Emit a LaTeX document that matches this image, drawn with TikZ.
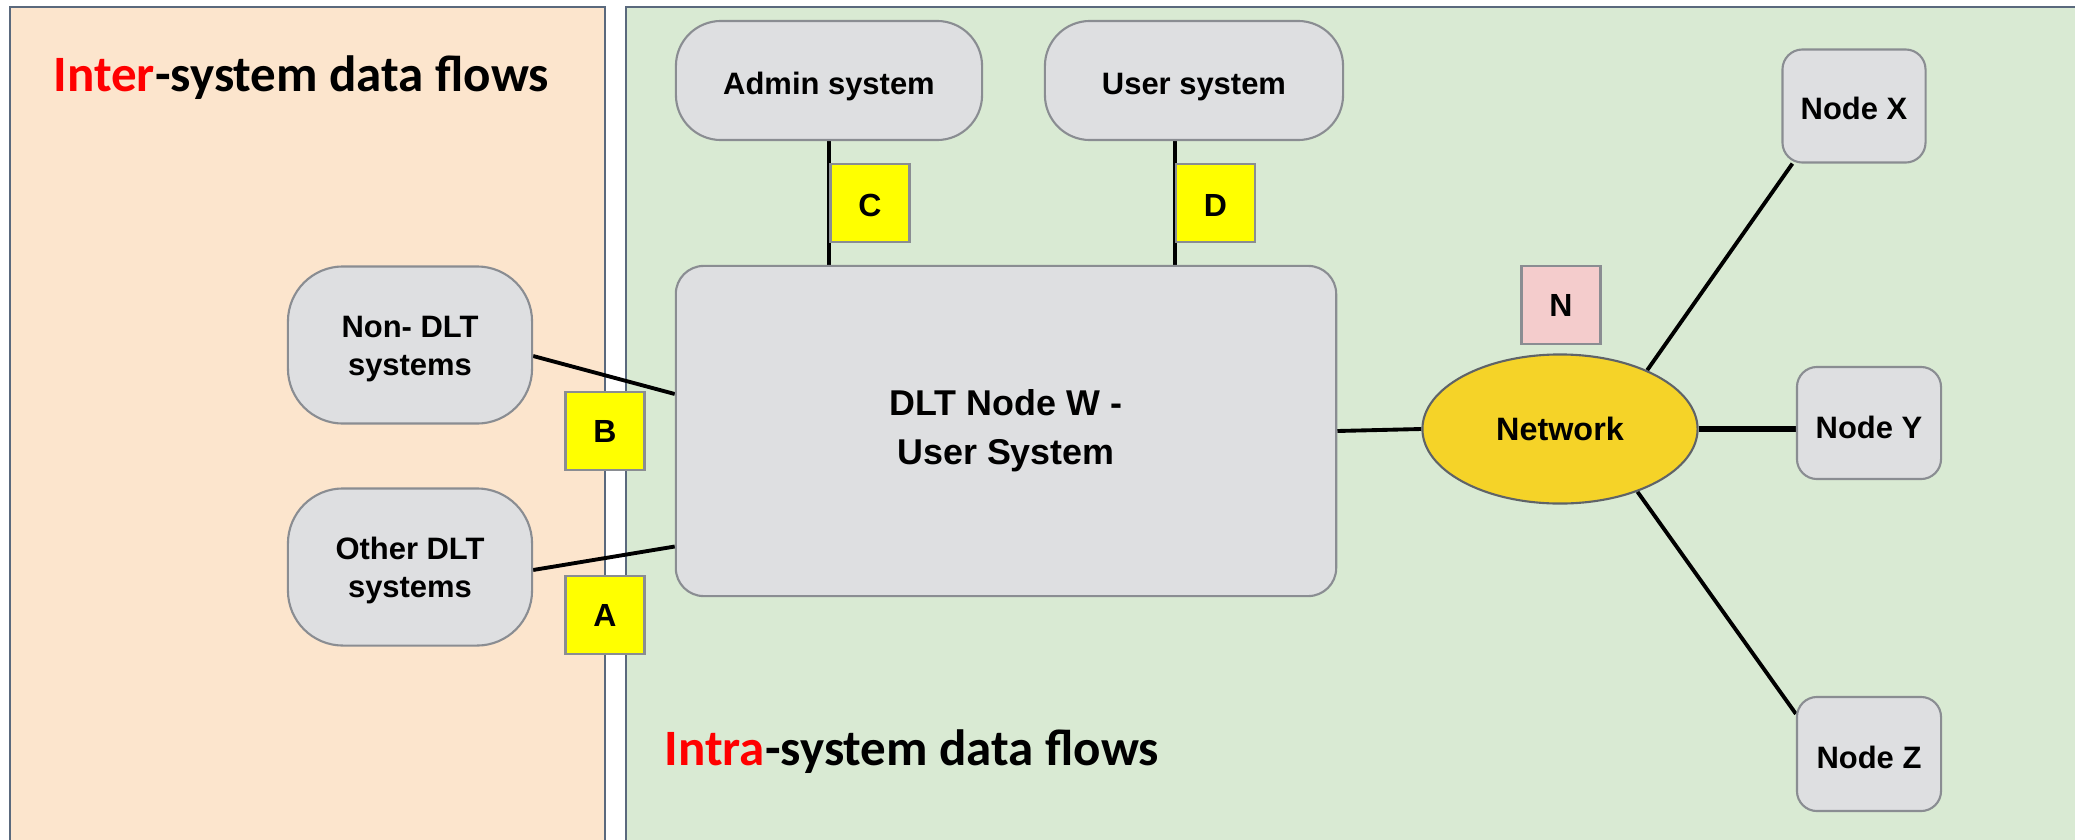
\documentclass[tikz,border=0pt]{standalone}
\usepackage{fontspec}
\setmainfont{Liberation Sans}
\newfontfamily\titlefont{Carlito}
\usetikzlibrary{shapes.geometric,calc}
\definecolor{peach}{RGB}{252,229,205}
\definecolor{mint}{RGB}{217,234,211}
\definecolor{panelborder}{RGB}{90,105,125}
\definecolor{boxgray}{RGB}{222,223,225}
\definecolor{boxborder}{RGB}{138,141,146}
\definecolor{netyellow}{RGB}{245,211,40}
\definecolor{netborder}{RGB}{95,99,104}
\definecolor{pinkbox}{RGB}{244,204,204}
\definecolor{tagyellow}{RGB}{255,255,0}
\definecolor{titlered}{RGB}{255,0,0}
\pgfdeclarelayer{bg}
\pgfdeclarelayer{lines}
\pgfsetlayers{bg,lines,main}
\newcommand{\lowered}[2]{\raisebox{-#1}[\height][\depth]{#2}}
\newcommand{\twolines}[2]{\begin{tabular}{@{}c@{}}#1\\#2\end{tabular}}
\tikzset{
  panel/.style={draw=panelborder,line width=0.6pt},
  sysbox/.style={draw=boxborder,fill=boxgray,line width=0.6pt,inner sep=0pt,align=center,font=\bfseries\fontsize{8.8}{10.9}\selectfont},
  tagbox/.style={draw=boxborder,fill=tagyellow,line width=0.6pt,inner sep=0pt,minimum width=0.79cm,minimum height=0.78cm,font=\bfseries\fontsize{9.1}{11}\selectfont},
  link/.style={draw=black,line width=1.1pt},
  titletext/.style={anchor=base west,inner sep=0pt,font=\titlefont\bfseries\fontsize{14.5}{17}\selectfont}
}
\begin{document}
\begin{tikzpicture}[x=0.01cm,y=-0.01cm]
\useasboundingbox (0,0) rectangle (2075,839);
\clip (0,0) rectangle (2075,839);
\begin{pgfonlayer}{bg}
  \fill[white] (0,0) rectangle (2075,839);
  \filldraw[panel,fill=peach] (10,7) rectangle (605,860);
  \filldraw[panel,fill=mint] (626,7) rectangle (2100,860);
\end{pgfonlayer}

\node[titletext] (intertitle) at (53,91) {\textcolor{titlered}{Inter}-system data flows};
\node[titletext] (intratitle) at (664,765) {\textcolor{titlered}{Intra}-system data flows};

\node[sysbox,rounded corners=0.45cm,minimum width=3.06cm,minimum height=1.19cm] (admin) at (829,80.5) {\lowered{1.8pt}{Admin system}};
\node[sysbox,rounded corners=0.45cm,minimum width=2.98cm,minimum height=1.19cm] (user) at (1194,80.5) {\lowered{1.8pt}{User system}};
\node[sysbox,rounded corners=0.28cm,minimum width=6.60cm,minimum height=3.30cm,font=\bfseries\fontsize{10.2}{14}\selectfont] (dlt) at (1006,431) {DLT Node W -\\User System};
\node[sysbox,rounded corners=0.55cm,minimum width=2.44cm,minimum height=1.57cm] (nondlt) at (410,345) {\lowered{1.1pt}{\twolines{Non- DLT}{systems}}};
\node[sysbox,rounded corners=0.55cm,minimum width=2.44cm,minimum height=1.57cm] (otherdlt) at (410,567) {\lowered{1.1pt}{\twolines{Other DLT}{systems}}};
\node[ellipse,draw=netborder,fill=netyellow,line width=0.6pt,inner sep=0pt,minimum width=2.75cm,minimum height=1.49cm,font=\bfseries\fontsize{9.2}{11}\selectfont] (net) at (1560,429) {Network};
\node[sysbox,rounded corners=0.2cm,minimum width=1.43cm,minimum height=1.13cm] (nodex) at (1854,106) {\lowered{0.8pt}{Node X}};
\node[sysbox,rounded corners=0.2cm,minimum width=1.44cm,minimum height=1.12cm] (nodey) at (1869,423) {\lowered{1.4pt}{Node Y}};
\node[sysbox,rounded corners=0.2cm,minimum width=1.44cm,minimum height=1.14cm] (nodez) at (1869,754) {\lowered{1.1pt}{Node Z}};

\node[tagbox] (tagc) at (870,203) {\lowered{0.6pt}{C}};
\node[tagbox] (tagd) at (1215.5,203) {\lowered{0.6pt}{D}};
\node[tagbox] (tagb) at (605,431) {B};
\node[tagbox] (taga) at (605,615) {A};
\node[tagbox,fill=pinkbox] (tagn) at (1561,305) {N};

\begin{pgfonlayer}{lines}
  \draw[link] (admin.south -| tagc.west) -- (dlt.north -| tagc.west);
  \draw[link] (user.south -| tagd.west) -- (dlt.north -| tagd.west);
  \draw[link] ($(nondlt.east)+(0,11)$) -- ($(dlt.west)+(0,-37)$);
  \draw[link] ($(otherdlt.east)+(0,3)$) -- ($(dlt.west)+(0,115.5)$);
  \draw[link] (dlt.east) -- (net.west);
  \draw[link] (net.34) -- ($(nodex.south west)+(11,0)$);
  \draw[link,line width=1.9pt] (net.east) -- (net.east -| nodey.west);
  \draw[link] (net.-39) -- ($(nodez.north west)+(0,18)$);
\end{pgfonlayer}
\end{tikzpicture}
\end{document}
